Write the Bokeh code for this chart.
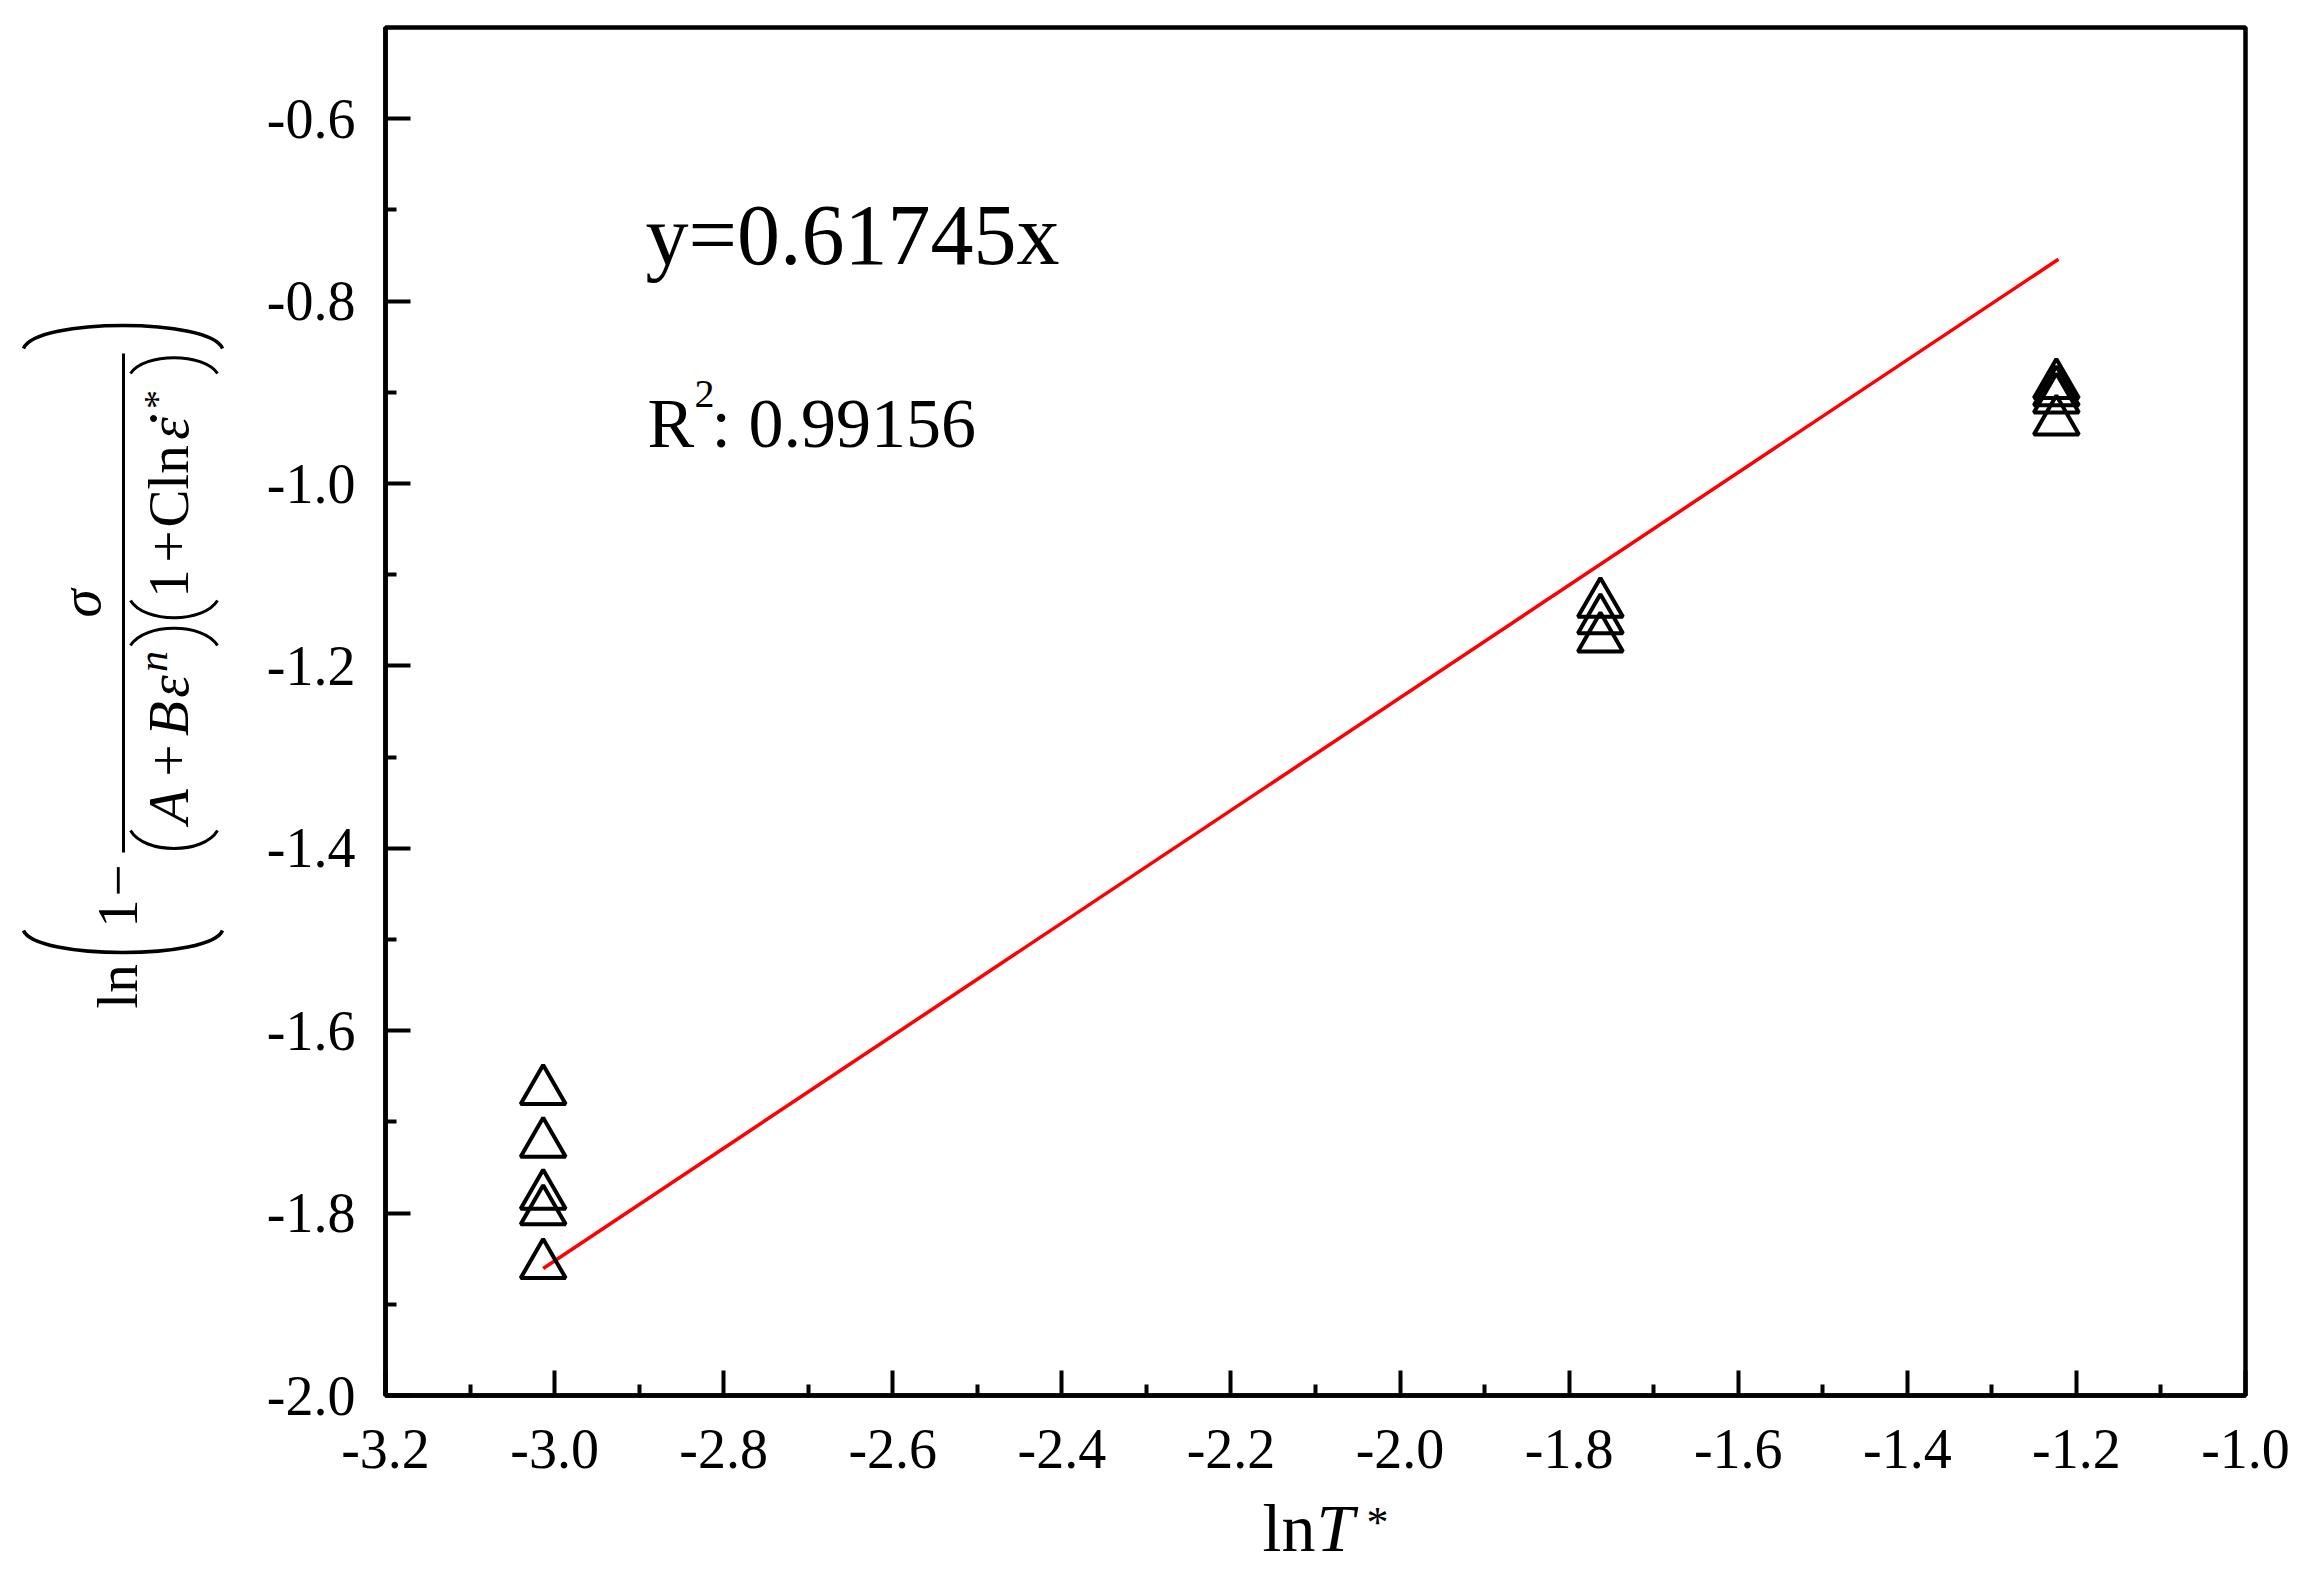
import math
from bokeh.plotting import figure
from bokeh.models import Range1d, FixedTicker, PrintfTickFormatter, Label
from bokeh.layouts import row, column
from bokeh.core.properties import value
from bokeh.embed import file_html
from bokeh.resources import INLINE

# ---------------- data ----------------
x_ticks = [-3.2, -3.0, -2.8, -2.6, -2.4, -2.2, -2.0, -1.8, -1.6, -1.4, -1.2, -1.0]
x_tick_labels = ["-3.2", "-3.0", "-2.8", "-2.6", "-2.4", "-2.2", "-2.0", "-1.8", "-1.6", "-1.4", "-1.2", "-1.0"]
x_minor = [-3.1, -2.9, -2.7, -2.5, -2.3, -2.1, -1.9, -1.7, -1.5, -1.3, -1.1]
y_ticks = [-2.0, -1.8, -1.6, -1.4, -1.2, -1.0, -0.8, -0.6]
y_tick_labels = ["-2.0", "-1.8", "-1.6", "-1.4", "-1.2", "-1.0", "-0.8", "-0.6"]
y_minor = [-1.9, -1.7, -1.5, -1.3, -1.1, -0.9, -0.7]

ln_T = [-3.0135, -3.0135, -3.0135, -3.0135, -3.0135,
        -1.763, -1.763, -1.763,
        -1.2237, -1.2237, -1.2237, -1.2237]
ln_term = [-1.666, -1.724, -1.781, -1.798, -1.857,
           -1.132, -1.150, -1.170,
           -0.892, -0.900, -0.908, -0.932]
slope = 0.61745
r_squared = "0.99156"

fit_x = [min(ln_T), max(ln_T) + 0.0024]
fit_y = [slope * v for v in fit_x]

FONT = "Liberation Serif"
K = 0.35   # baseline correction (fraction of font size)

# ---------------- layout geometry (page pixels) ----------------
LEFT_W = 250
FRAME_L, FRAME_T, FRAME_W, FRAME_H = 385, 27, 1860, 1368
BORDER_L = FRAME_L - LEFT_W
BORDER_R = 55
BORDER_B = 95
TOTAL_H = 1570
MAIN_W = BORDER_L + FRAME_W + BORDER_R
BOT_TOP = FRAME_T + FRAME_H + BORDER_B
BOT_H = TOTAL_H - BOT_TOP

# ---------------- main plot ----------------
p = figure(frame_width=FRAME_W, frame_height=FRAME_H,
           x_range=Range1d(-3.2, -1.0), y_range=Range1d(-2.0, -0.5),
           min_border_left=BORDER_L, min_border_right=BORDER_R,
           min_border_top=FRAME_T, min_border_bottom=BORDER_B,
           output_backend="svg", toolbar_location=None, background_fill_color="white",
           border_fill_color="white")
p.grid.visible = False
p.outline_line_color = "black"
p.outline_line_width = 4.5

for ax, ticks, minor, labels in ((p.xaxis[0], x_ticks, x_minor, x_tick_labels),
                                 (p.yaxis[0], y_ticks, y_minor, y_tick_labels)):
    ax.ticker = FixedTicker(ticks=ticks, minor_ticks=minor)
    ax.formatter = PrintfTickFormatter(format="%.1f")
    ax.major_label_overrides = {t: l for t, l in zip(ticks, labels)}
    ax.axis_line_width = 4.5
    ax.axis_line_color = "black"
    ax.major_tick_in = 25
    ax.major_tick_out = 0
    ax.minor_tick_in = 11
    ax.minor_tick_out = 0
    ax.major_tick_line_width = 4
    ax.minor_tick_line_width = 4
    ax.major_tick_line_color = "black"
    ax.minor_tick_line_color = "black"
    ax.major_label_text_font = FONT
    ax.major_label_text_font_size = "56px"
    ax.major_label_text_color = "black"
p.xaxis.major_label_standoff = 34
p.yaxis.major_label_standoff = 30

p.line(fit_x, fit_y, line_color="#ff0000", line_width=3.5)
p.scatter(ln_T, ln_term, marker="triangle", size=45, fill_color=None,
          line_color="black", line_width=4)


def dx(tx):
    return -3.2 + (tx - FRAME_L) / (FRAME_W / 2.2)


def dy(ty):
    return -0.5 - (ty - FRAME_T) / (FRAME_H / 1.5)


def lab(tx, ty, text, size, style="normal"):
    p.add_layout(Label(x=dx(tx), y=dy(ty - K * size), text=text, text_font=FONT,
                       text_font_size=f"{size}px", text_font_style=style,
                       text_align="left", text_baseline="alphabetic", text_color="black"))


lab(645, 265, f"y={slope}x", 86)
lab(647, 447, "R", 70)
lab(694, 407, "2", 40)
lab(711, 447, ": " + r_squared, 70)

# ---------------- x-axis label panel (frame aligned with main frame) ----------------
r = figure(frame_width=FRAME_W, frame_height=BOT_H, x_range=Range1d(0, FRAME_W),
           y_range=Range1d(0, BOT_H), min_border=0, output_backend="svg",
           toolbar_location=None, x_axis_location=None, y_axis_location=None)
r.grid.visible = False
r.outline_line_color = None


def ht(tx, ty, text, size, style="normal"):
    r.text(x=[tx - FRAME_L], y=[TOTAL_H - (ty - K * size)], text=[text],
           text_font=value(FONT), text_font_size=f"{size}px", text_font_style=style,
           text_align="left", text_baseline="alphabetic", text_color="black")


ht(1262, 1551, "ln", 68)
ht(1316, 1551, "T", 68, "italic")
ht(1366, 1537, "*", 44)

# ---------------- y-axis label panel ----------------
q = figure(frame_width=LEFT_W, frame_height=TOTAL_H, x_range=Range1d(0, LEFT_W),
           y_range=Range1d(0, TOTAL_H), min_border=0, output_backend="svg",
           toolbar_location=None, x_axis_location=None, y_axis_location=None)
q.grid.visible = False
q.outline_line_color = None


def vt(tx, ty, text, size, style="normal"):
    q.text(x=[tx - K * size], y=[TOTAL_H - ty], text=[text], angle=math.pi / 2,
           text_font=value(FONT), text_font_size=f"{size}px", text_font_style=style,
           text_align="center", text_baseline="alphabetic", text_color="black")


vt(137, 986, "ln", 57)
vt(137, 913, "1", 57)
vt(137, 880, "\u2212", 57)
vt(100, 603, "\u03c3", 57, "italic")
vt(188, 806, "A", 57, "italic")
vt(188, 760, "+", 57)
vt(188, 718, "B", 57, "italic")
vt(188, 686, "\u03b5", 57, "italic")
vt(167, 661, "n", 42, "italic")
vt(188, 583, "1", 57)
vt(188, 546, "+", 57)
vt(188, 508, "C", 57)
vt(188, 467, "ln", 57)
vt(188, 428, "\u03b5", 57, "italic")
vt(170, 399, "*", 38)
q.scatter([153], [TOTAL_H - 418], size=6, color="black")

# fraction bar
q.segment(x0=[123], y0=[TOTAL_H - 353], x1=[123], y1=[TOTAL_H - 852],
          line_color="black", line_width=3)


def paren(x0, x1, yend, ycp, w=3.5, inset=12):
    q.bezier(x0=[x0], y0=[TOTAL_H - yend], x1=[x1], y1=[TOTAL_H - yend],
             cx0=[x0 + inset], cy0=[TOTAL_H - ycp], cx1=[x1 - inset], cy1=[TOTAL_H - ycp],
             line_color="black", line_width=w)


paren(23, 222, 930, 959.3)   # big (
paren(23, 222, 348, 317.3)   # big )
paren(130, 217, 830, 854, 3, 14)
paren(130, 217, 645, 622, 3, 14)
paren(130, 217, 600, 623, 3, 14)
paren(130, 217, 373, 352, 3, 14)

layout = row(q, column(p, r))
open("out.html", "w").write(file_html(layout, INLINE))
